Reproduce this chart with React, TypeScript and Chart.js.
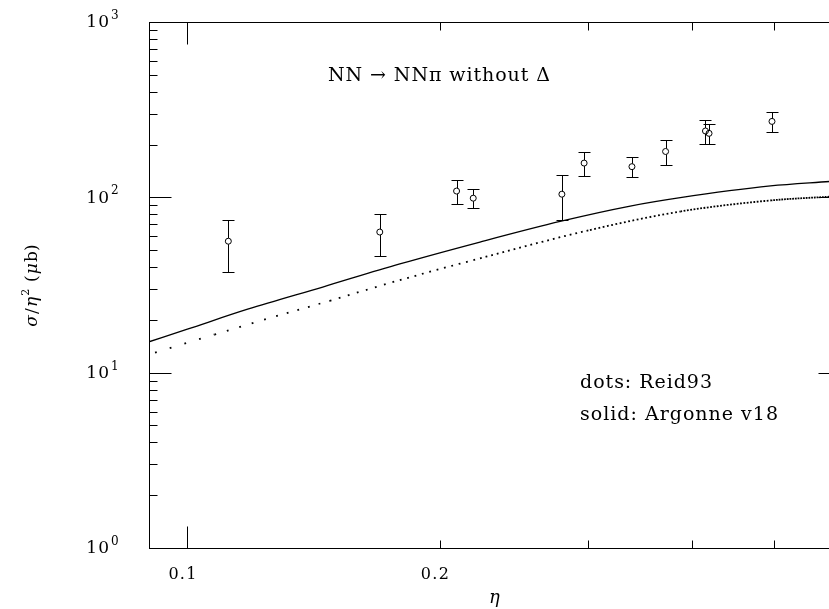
import React, { useEffect, useRef } from "react";
import { Chart, registerables } from "chart.js";

Chart.register(...registerables);

// ---- data ----
const solidEta = [0.09, 0.1, 0.118, 0.145, 0.1792, 0.2233, 0.2791, 0.3373, 0.387, 0.4958, 0.583, 0.6];
const solidSigma = [15.0, 17.7, 23.0, 30.8, 41.7, 55.6, 73.1, 89.1, 99.5, 116.1, 123.1, 124.4];

const dottedEta = [0.0915, 0.1077, 0.1276, 0.1478, 0.1756, 0.2233, 0.302, 0.387, 0.4958, 0.583, 0.6];
const dottedSigma = [13.0, 16.5, 21.0, 25.7, 32.8, 44.9, 65.1, 83.0, 96.0, 100.8, 101.5];

const dataEta = [0.1119, 0.1696, 0.2094, 0.2192, 0.2796, 0.2972, 0.3389, 0.3717, 0.4147, 0.4188, 0.4978];
const dataSigma = [56.2, 63.4, 108.6, 98.9, 104.2, 156.8, 149.6, 182.6, 239, 231.7, 271];
const dataErr = [18.5, 17, 17, 12.3, 30, 24.5, 19.5, 29.7, 37, 29.4, 34.4];

const xTickValues = [0.1, 0.2, 0.3, 0.4, 0.5, 0.6];
const xMajorTicks = [0.1];
const xTickLabels = ["0.1", "0.2"];
const xLabelledTicks = [0.1, 0.2];

const yDecades = [1, 10, 100, 1000];
const yDecadeExponents = ["0", "1", "2", "3"];
const yMinorMultipliers = [2, 3, 4, 5, 6, 7, 8, 9];

const titleText = "NN \u2192 NN\u03c0 without \u0394";
const noteDots = "dots: Reid93";
const noteSolid = "solid: Argonne v18";

const DOT_STEP = 0.004; // eta spacing of the dotted curve's dots

const W = 880;
const H = 609;
const SERIF = "'DejaVu Serif', 'Liberation Serif', serif";

function fitText(ctx: CanvasRenderingContext2D, text: string, x: number, y: number, font: string, targetW: number, align: "left" | "center" = "left") {
  ctx.font = font;
  (ctx as any).letterSpacing = "0px";
  const w = ctx.measureText(text).width;
  const ls = (targetW - w) / Math.max(text.length - 1, 1);
  (ctx as any).letterSpacing = ls + "px";
  ctx.textAlign = "left";
  const sx = align === "center" ? x - targetW / 2 : x;
  ctx.fillText(text, sx, y);
  (ctx as any).letterSpacing = "0px";
}

const decorPlugin = {
  id: "decor",
  afterDatasetsDraw(chart: any) {
    const { ctx, scales } = chart;
    const xs = scales.x;
    const ys = scales.y;
    ctx.save();
    ctx.strokeStyle = "#000";
    ctx.lineWidth = 1;
    const r = 3;
    const cap = 6;
    for (let i = 0; i < dataEta.length; i++) {
      const px = Math.round(xs.getPixelForValue(dataEta[i])) + 0.5;
      const py = ys.getPixelForValue(dataSigma[i]);
      const top = Math.round(ys.getPixelForValue(dataSigma[i] + dataErr[i])) + 0.5;
      const bot = Math.round(ys.getPixelForValue(dataSigma[i] - dataErr[i])) + 0.5;
      ctx.beginPath();
      ctx.moveTo(px, top);
      ctx.lineTo(px, py - r);
      ctx.moveTo(px, py + r);
      ctx.lineTo(px, bot);
      ctx.moveTo(px - cap, top);
      ctx.lineTo(px + cap, top);
      ctx.moveTo(px - cap, bot);
      ctx.lineTo(px + cap, bot);
      ctx.stroke();
    }
    ctx.restore();
  },
  afterDraw(chart: any) {
    const { ctx, chartArea: a, scales } = chart;
    const xs = scales.x;
    const ys = scales.y;
    ctx.save();
    ctx.strokeStyle = "#000";
    ctx.fillStyle = "#000";
    ctx.lineWidth = 1;
    const L = Math.round(a.left) + 0.5;
    const R = Math.round(a.right) + 0.5;
    const T = Math.round(a.top) + 0.5;
    const B = Math.round(a.bottom) + 0.5;
    ctx.strokeRect(L, T, R - L, B - T);

    const major = 22;
    const minor = 8;
    ctx.beginPath();
    const yTicks: { v: number; len: number }[] = [];
    yDecades.forEach((d, i) => {
      yTicks.push({ v: d, len: major });
      if (i < yDecades.length - 1) yMinorMultipliers.forEach((m) => yTicks.push({ v: d * m, len: minor }));
    });
    yTicks.forEach(({ v, len }) => {
      const y = Math.round(ys.getPixelForValue(v)) + 0.5;
      ctx.moveTo(L, y);
      ctx.lineTo(L + len, y);
      ctx.moveTo(R, y);
      ctx.lineTo(R - len, y);
    });
    xTickValues.forEach((v) => {
      const len = xMajorTicks.includes(v) ? major : minor;
      const x = Math.round(xs.getPixelForValue(v)) + 0.5;
      ctx.moveTo(x, B);
      ctx.lineTo(x, B - len);
      ctx.moveTo(x, T);
      ctx.lineTo(x, T + len);
    });
    ctx.stroke();

    ctx.textBaseline = "middle";
    xLabelledTicks.forEach((v, i) => {
      const x = xs.getPixelForValue(v) - 5;
      fitText(ctx, xTickLabels[i], x, a.bottom + 27, "16px " + SERIF, 28, "center");
    });
    yDecades.forEach((d, i) => {
      const y = ys.getPixelForValue(d);
      ctx.font = "17px " + SERIF;
      (ctx as any).letterSpacing = "1px";
      ctx.textAlign = "right";
      ctx.fillText("10", 110, y + 1);
      (ctx as any).letterSpacing = "0px";
      ctx.font = "12px " + SERIF;
      ctx.textAlign = "left";
      ctx.fillText(yDecadeExponents[i], 111, y - 6);
    });

    ctx.font = "italic 18px " + SERIF;
    ctx.textAlign = "center";
    ctx.fillText("\u03b7", (a.left + a.right) / 2, a.bottom + 50);

    ctx.save();
    ctx.translate(33, (a.top + a.bottom) / 2);
    ctx.rotate(-Math.PI / 2);
    const parts: { t: string; f: string; dy: number }[] = [
      { t: "\u03c3", f: "italic 17px " + SERIF, dy: 0 },
      { t: "/", f: "17px " + SERIF, dy: 0 },
      { t: "\u03b7", f: "italic 17px " + SERIF, dy: 0 },
      { t: "2", f: "11px " + SERIF, dy: -7 },
      { t: " (", f: "17px " + SERIF, dy: 0 },
      { t: "\u03bc", f: "italic 17px " + SERIF, dy: 0 },
      { t: "b)", f: "17px " + SERIF, dy: 0 },
    ];
    const gap = 1.2;
    let total = 0;
    parts.forEach((p) => {
      ctx.font = p.f;
      total += ctx.measureText(p.t).width + gap;
    });
    let cx = -total / 2;
    ctx.textAlign = "left";
    parts.forEach((p) => {
      ctx.font = p.f;
      ctx.fillText(p.t, cx, p.dy);
      cx += ctx.measureText(p.t).width + gap;
    });
    ctx.restore();

    fitText(ctx, titleText, 328, 76, "19px " + SERIF, 222);
    fitText(ctx, noteDots, 580, 383, "19px " + SERIF, 132);
    fitText(ctx, noteSolid, 580, 415, "19px " + SERIF, 198);
    ctx.restore();
  },
};

export default function App() {
  const ref = useRef<HTMLCanvasElement>(null);
  useEffect(() => {
    document.body.style.overflow = "hidden";
    const canvas = ref.current!;
    const chart = new Chart(canvas, {
      type: "line",
      data: {
        datasets: [
          {
            label: "solid: Argonne v18",
            data: solidEta.map((x, i) => ({ x, y: solidSigma[i] })),
            borderColor: "#000",
            borderWidth: 1.3,
            pointRadius: 0,
            fill: false,
            cubicInterpolationMode: "monotone",
          },
          {
            label: "dots: Reid93",
            data: dottedEta.map((x, i) => ({ x, y: dottedSigma[i] })),
            borderColor: "#000",
            borderWidth: 1.8,
            borderCapStyle: "butt",
            pointRadius: 0,
            fill: false,
            cubicInterpolationMode: "monotone",
            segment: {
              borderDash: (sc: any) => {
                const xs = sc.chart.scales.x;
                const e0 = dottedEta[sc.p0DataIndex];
                const e1 = dottedEta[sc.p1DataIndex];
                const m = Math.sqrt(e0 * e1);
                const step = xs.getPixelForValue(m + DOT_STEP / 2) - xs.getPixelForValue(m - DOT_STEP / 2);
                const dx = sc.p1.x - sc.p0.x;
                const dy = sc.p1.y - sc.p0.y;
                const path = dx > 0 ? (step * Math.hypot(dx, dy)) / dx : step;
                const dash = 1.8;
                return [dash, Math.max(path - dash, 0.7)];
              },
            },
          },
          {
            label: "data",
            data: dataEta.map((x, i) => ({ x, y: dataSigma[i] })),
            showLine: false,
            pointStyle: "circle",
            pointRadius: 3,
            pointBorderWidth: 1,
            pointBorderColor: "#000",
            pointBackgroundColor: "rgba(0,0,0,0)",
          },
        ],
      },
      options: {
        animation: false,
        responsive: false,
        maintainAspectRatio: false,
        devicePixelRatio: 1,
        events: [],
        layout: { padding: { left: 149, right: W - 840, top: 22, bottom: H - 548 } },
        scales: {
          x: { type: "logarithmic", min: 0.09, max: 0.6, display: false },
          y: { type: "logarithmic", min: 1, max: 1000, display: false },
        },
        plugins: { legend: { display: false }, tooltip: { enabled: false }, title: { display: false } },
      } as any,
      plugins: [decorPlugin],
    });
    return () => chart.destroy();
  }, []);
  return (
    <div style={{ position: "fixed", left: 0, top: 0, width: W, height: H, background: "#fff" }}>
      <canvas ref={ref} width={W} height={H} style={{ display: "block", width: W, height: H }} />
    </div>
  );
}
